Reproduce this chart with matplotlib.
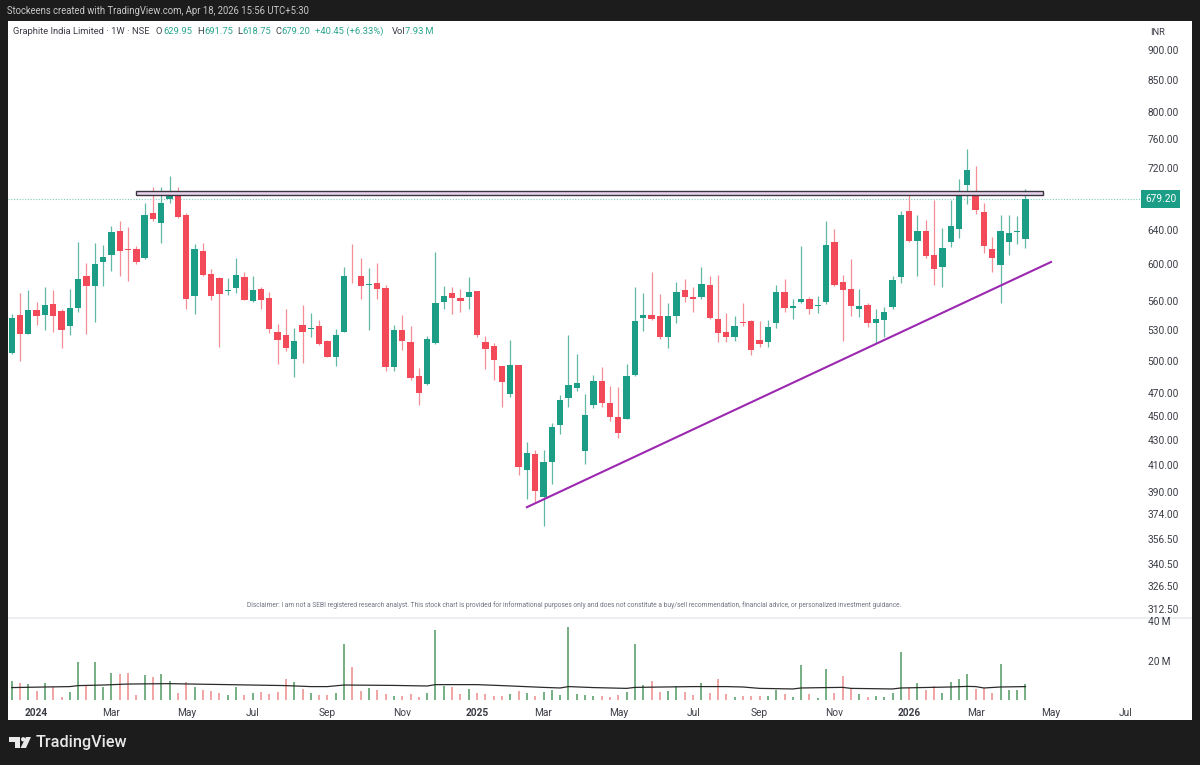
import matplotlib
matplotlib.use("Agg")
import matplotlib.pyplot as plt
import numpy as np
from matplotlib.patches import Circle, Polygon, Rectangle
from matplotlib.ticker import NullLocator

plt.rcParams["font.family"] = ["Roboto", "DejaVu Sans"]

# weekly OHLC, first bar is mid Dec 2023
opens = [507, 545.6, 526.3, 550, 545.6, 556.3, 549.4, 533.7, 552.2, 587.3,
         576.3, 602.4, 610.4, 639.3, 617.3, 617.3, 607, 661, 648.3, 679,
         689, 658.3, 565, 615.7, 589.4, 584.7, 570.2, 574.2, 585.5, 559.5,
         572.4, 562.7, 527.7, 524.7, 501.7, 534.6, 531, 534.3, 518.8, 503.6,
         528.3, 589.4, 587, 576.7, 579, 574, 494.2, 530, 518.4, 485.6,
         478, 517, 558.8, 568, 562.7, 564, 570.5, 517.8, 514.5, 494.6,
         469.7, 496, 406.8, 419, 386.6, 412.5, 442.6, 465.5, 474.7, 421.7,
         459.4, 481.5, 461.6, 449, 447.7, 486.4, 542.5, 545, 544.3, 523,
         544.5, 571.3, 564.4, 564.4, 577, 541, 527.7, 523, 538, 538.8,
         520, 518.4, 536.4, 569, 552.8, 558.5, 561.6, 554.6, 558.5, 625.8,
         580.3, 573, 551.7, 555.3, 537.4, 540.4, 553.2, 585.5, 663.3, 627,
         638.7, 610.4, 597, 626, 641, 697, 684, 662.4, 617.7, 599.3,
         625.5, 637.5, 629.95]
highs = [546, 568, 571.3, 558.8, 575.2, 571.6, 551, 573, 626.2, 601.2,
         624.3, 622.7, 645.6, 651.6, 643.8, 621.5, 673.4, 694, 695, 709,
         694, 661.7, 623.4, 624.3, 594.7, 585.5, 584.7, 607.7, 591.6, 587,
         575.2, 569.4, 535.7, 551, 532.3, 556, 547.6, 540, 520, 531.3,
         597.4, 623, 607.7, 596.3, 602, 577, 535, 545.2, 534.3, 493,
         523.4, 613.7, 576.3, 575.2, 572.4, 585.5, 570.5, 524.3, 516.8, 494.6,
         520, 496, 429, 422, 422, 444, 468.4, 524.7, 506.5, 469,
         486.7, 494, 476.4, 475.5, 496.7, 575.2, 568, 591.6, 566.9, 558,
         580.7, 583.6, 574.5, 597, 587, 588.3, 547.3, 544.5, 558, 540,
         539, 540, 577, 583.3, 562, 621.5, 564.4, 565, 651, 642,
         588, 606.5, 572.4, 557.4, 551, 553.2, 587, 664, 684, 659,
         652.4, 677.6, 642.4, 677.6, 704.8, 746.2, 722.5, 673.4, 632, 659,
         658.7, 657, 691.75]
lows = [506, 499.2, 526, 534.4, 530.3, 527.7, 512, 525, 548.7, 526,
        537.8, 576.3, 592, 587.3, 581, 600.7, 606.5, 650.8, 624.6, 673.4,
        654.5, 551.7, 546.3, 586.3, 561.2, 513.4, 566, 568, 560.6, 558.8,
        551, 527.3, 496.7, 509, 485, 498, 522.8, 515.4, 503, 495,
        528, 578.7, 562, 529.7, 562, 490.7, 490, 510, 482, 460,
        477.7, 515.8, 551.7, 546, 548.7, 551, 522.8, 492.6, 482, 457.6,
        466.3, 402.5, 385, 382.7, 365.7, 396, 435, 458, 472.5, 411,
        456.8, 458.4, 445.6, 431.9, 447.4, 486, 529, 540, 521, 512.4,
        537.4, 558.5, 548.7, 561.6, 541, 517.9, 518.4, 519, 534, 505.6,
        513.4, 513.4, 532.3, 548.7, 541, 558, 546.3, 547.3, 556.7, 576,
        519.4, 544.5, 542.8, 532.8, 516.8, 522.8, 551, 578.7, 626.2, 587.3,
        607, 576.7, 574.5, 619.8, 630.6, 672.9, 660, 613.4, 591.6, 558,
        611, 623.7, 618.75]
closes = [542.5, 526.3, 550, 544, 555, 544.5, 529.7, 552.2, 583.6, 576,
          600, 608.8, 638.2, 615.4, 616.5, 602.7, 658.3, 654, 673.4, 684,
          655.7, 561.6, 618, 588, 565, 566.7, 571.6, 587.7, 560.9, 571.3,
          561.2, 531, 520.1, 512, 519, 528.3, 531.7, 516.4, 503.6, 525.3,
          586.3, 588.6, 576, 578.2, 572.7, 494, 530, 519.4, 484, 470.5,
          520.8, 557.4, 565, 563, 559.8, 569.8, 524.7, 511.6, 500.8, 480.5,
          496, 409, 419.8, 391, 412.5, 441, 463.7, 477.5, 479.5, 451.3,
          481.5, 461.3, 449, 436.3, 485.8, 538.8, 545.6, 541, 523, 544.3,
          569, 564, 562, 578, 542, 527, 522.8, 533.7, 536.4, 510.3,
          516, 532.8, 569, 552.8, 554.6, 562, 551, 556, 622, 576.7,
          571.3, 554.6, 554.3, 536.8, 540.8, 548.3, 582.2, 659, 627.3, 638.7,
          609.2, 595, 618.5, 645, 689.6, 717.2, 665, 621, 607, 639.3,
          636.8, 638.7, 679.2]

# volume in millions
volumes = [9.8, 8.8, 8, 4.4, 8.6, 6.6, 1.7, 4.2, 19.5, 7.8,
           19.3, 6.6, 13.5, 13.2, 13.5, 2.7, 12.9, 11.5, 13, 9.5,
           3.7, 9.1, 6.5, 5.1, 4.6, 3.7, 2.4, 6.4, 2.4, 3.4,
           4.2, 3.2, 4.1, 10.5, 9.1, 5.4, 3.4, 2.4, 2.4, 3.4,
           28.3, 16.8, 4.4, 5.9, 5.2, 3, 1.9, 1.9, 2.9, 1.7,
           3.4, 35.7, 7.3, 6.4, 2.9, 5.6, 3.7, 2.9, 2, 2.2,
           3, 4.7, 3.7, 1.9, 3.9, 4.9, 2.4, 37, 2.9, 2.4,
           2.2, 2, 1.4, 2.4, 4.1, 28.6, 7.4, 9.8, 4.2, 4.4,
           7.1, 4.2, 2.4, 8.8, 3.4, 10.7, 3.2, 1.5, 1.9, 1.9,
           1.9, 2.2, 5.2, 3, 1.5, 17.8, 3, 1.2, 15.9, 3.7,
           12.4, 5.6, 3.2, 1.7, 1.9, 1.7, 3.7, 24.2, 6.3, 8.6,
           4.9, 7.1, 3.6, 9.3, 10.5, 13.4, 5.8, 5.9, 3.6, 18.4,
           5.2, 4.9, 7.93]

# volume average, read at the points where it bends
ma_bars = [0, 4, 7, 8, 11, 14, 19, 23, 26, 33, 36, 38, 40, 46, 50, 51, 56, 59,
           64, 66, 67, 70, 74, 75, 82, 86, 88, 90, 94, 95, 98, 100, 101, 106,
           107, 113, 115, 116, 117, 119, 122]
ma_values = [6.3, 6.6, 6.8, 7.3, 7.6, 8.1, 8.3, 8, 7.8, 7.3, 6.8, 6.8, 7.6, 7.4,
             7.1, 7.8, 7.8, 7.3, 6.4, 6.1, 6.8, 6.3, 5.9, 6.4, 6.8, 6.8, 6.6,
             5.9, 5.6, 6.1, 6.3, 6.4, 5.9, 5.6, 6.1, 6.6, 6.9, 6.8, 6.1, 6.6, 6.8]

price_ticks = [312.5, 326.5, 340.5, 356.5, 374, 390, 410, 430, 450, 470, 500, 530,
               560, 600, 640, 720, 760, 800, 850, 900]
vol_ticks = [20, 40]
vol_tick_labels = ["20\u2009M", "40\u2009M"]
date_bars = [3, 12, 21, 29, 38, 47, 56, 64, 73, 82, 90, 99, 108, 116, 125, 134]
date_labels = ["2024", "Mar", "May", "Jul", "Sep", "Nov", "2025", "Mar", "May",
               "Jul", "Sep", "Nov", "2026", "Mar", "May", "Jul"]
year_labels = ["2024", "2025", "2026"]

# drawings on the chart
zone_bars = [14.96, 124.1]
zone_prices = [683.5, 689.3]
trend_bars = [62.0, 125.07]
trend_prices = [378.9, 602.6]

GREEN = "#1c9e86"
RED = "#f34a5a"
GREEN_WICK = "#62b8a6"
RED_WICK = "#f58d97"
VOL_GREEN = "#4f9a60"
VOL_RED = "#ee8b8b"
DARK = "#1c1c1c"
TEXT = "#3a3d45"
TEAL = "#2aa58e"

W, H = 1200, 765
HEADER_SIZE = 6.75
TICK_SIZE = 7.3


def axes_px(left, top, right, bottom):
    return fig.add_axes([left / W, 1 - bottom / H, (right - left) / W, (bottom - top) / H])


fig = plt.figure(figsize=(12, 7.65), dpi=100, facecolor=DARK)

# page layer in pixels, holds the panel and header texts
page = fig.add_axes([0, 0, 1, 1])
page.set_xlim(0, W)
page.set_ylim(H, 0)
page.axis("off")
page.add_patch(Rectangle((8, 21), 1184, 699, facecolor="white", edgecolor="none"))
page.add_patch(Rectangle((8, 617), 1184, 1.6, facecolor="#eceef2", edgecolor="none"))

page.text(7, 11, "Stockeens created with TradingView.com, Apr 18, 2026 15:56 UTC+5:30",
          color="#c8c8c8", fontsize=6.85, va="center")
page.text(13, 31, "Graphite India Limited · 1W · NSE", color=TEXT, fontsize=HEADER_SIZE, va="center")
for x, s, c in [(156, "O", TEXT), (163, "629.95", TEAL), (197, "H", TEXT), (204, "691.75", TEAL),
                (237, "L", TEXT), (242, "618.75", TEAL), (275, "C", TEXT), (281, "679.20", TEAL),
                (315, "+40.45 (+6.33%)", TEAL), (392, "Vol", TEXT), (405, "7.93\u2009M", TEAL)]:
    page.text(x, 31, s, color=c, fontsize=HEADER_SIZE, va="center")
page.text(1150, 32, "INR", color=TEXT, fontsize=HEADER_SIZE, va="center")
page.text(574, 605, "Disclaimer: I am not a SEBI registered research analyst. This stock chart is "
          "provided for informational purposes only and does not constitute a buy/sell "
          "recommendation, financial advice, or personalized investment guidance.",
          color="#6f7480", fontsize=4.8, ha="center", va="center")

# TradingView logo
page.add_patch(Polygon([(9, 737), (20, 737), (20, 748), (14.5, 748), (14.5, 741.5), (9, 741.5)],
                       facecolor="#e8e8e8", edgecolor="none"))
page.add_patch(Circle((23.2, 739.3), 2.2, facecolor="#e8e8e8", edgecolor="none"))
page.add_patch(Polygon([(26, 737), (31, 737), (26, 748), (20.5, 748)],
                       facecolor="#e8e8e8", edgecolor="none"))
page.text(36, 743, "TradingView", color="#e8e8e8", fontsize=11.7, va="center", fontweight="medium")

bars = np.arange(len(closes))
o = np.array(opens)
c = np.array(closes)
is_up = c >= o
xlim = (-0.445, 135.9)

# price pane
ax = axes_px(8, 22, 1141, 617)
ax.patch.set_alpha(0)
ax.set_yscale("log")
ax.vlines(bars, lows, highs, colors=np.where(is_up, GREEN_WICK, RED_WICK), linewidth=0.9, zorder=2)
ax.bar(bars, np.abs(c - o), bottom=np.minimum(o, c), width=0.76,
       color=np.where(is_up, GREEN, RED), linewidth=0, zorder=3)
ax.axhline(closes[-1], color="#7fcabb", linewidth=0.8, linestyle=(0, (1, 1.5)), zorder=1)
ax.add_patch(Rectangle((zone_bars[0], zone_prices[0]), zone_bars[1] - zone_bars[0],
                       zone_prices[1] - zone_prices[0], facecolor="#e7d3ec", edgecolor="#3c3540",
                       linewidth=1.0, zorder=4))
ax.plot(trend_bars, trend_prices, color="#9c27b0", linewidth=1.5, zorder=5)
ax.set_xlim(*xlim)
ax.set_ylim(307.8, 949)
ax.set_xticks([])
ax.yaxis.tick_right()
ax.set_yticks(price_ticks, [f"{v:.2f}" for v in price_ticks])
ax.yaxis.set_minor_locator(NullLocator())
ax.tick_params(axis="y", length=0, pad=4.8, labelsize=TICK_SIZE, labelcolor=TEXT)
for s in ax.spines.values():
    s.set_visible(False)
ax.text(1.0035, closes[-1], f"{closes[-1]:.2f}", transform=ax.get_yaxis_transform(), color="white",
        fontsize=TICK_SIZE, va="center", ha="left",
        bbox=dict(boxstyle="square,pad=0.4", facecolor=GREEN, edgecolor="none"))

# volume pane
vol = axes_px(8, 618, 1141, 700)
vol.patch.set_alpha(0)
vol.vlines(bars, 0, volumes, colors=np.where(is_up, VOL_GREEN, VOL_RED), linewidth=1.1)
vol.plot(ma_bars, ma_values, color="#2b2b2b", linewidth=0.9)
vol.set_xlim(*xlim)
vol.set_ylim(0, 41.6)
vol.yaxis.tick_right()
vol.set_yticks(vol_ticks, vol_tick_labels)
vol.set_xticks(date_bars, date_labels)
vol.tick_params(axis="y", length=0, pad=4.8, labelsize=TICK_SIZE, labelcolor=TEXT)
vol.tick_params(axis="x", length=0, pad=6, labelsize=TICK_SIZE, labelcolor=TEXT)
for label in vol.get_xticklabels():
    if label.get_text() in year_labels:
        label.set_fontweight("bold")
for s in vol.spines.values():
    s.set_visible(False)

plt.savefig("out.png", dpi=100, facecolor=DARK)
